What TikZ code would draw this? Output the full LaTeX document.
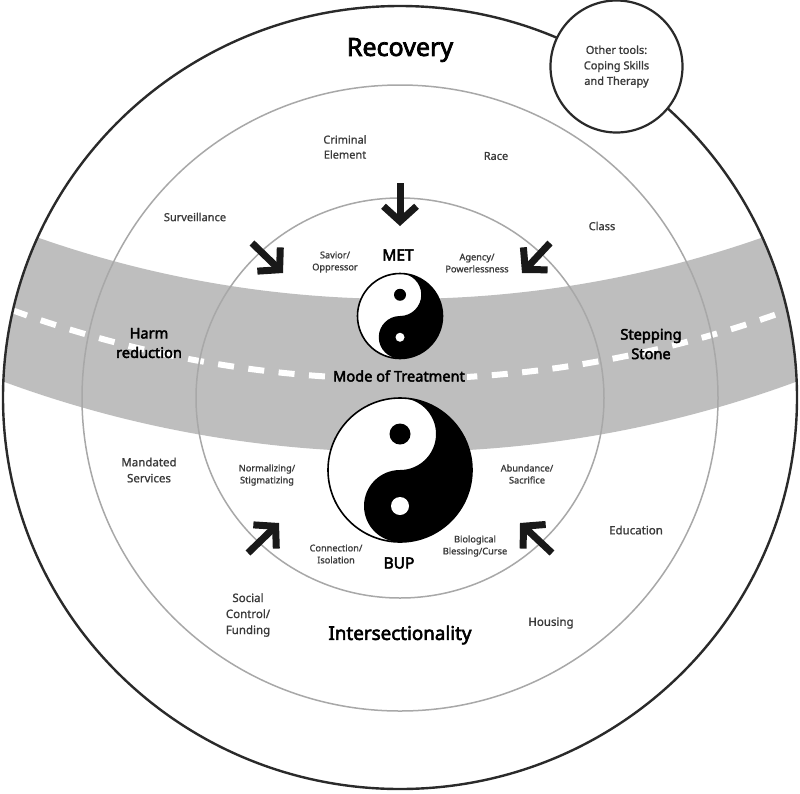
\documentclass[tikz,border=0pt]{standalone}
\usepackage{fontspec}
\setmainfont{Noto Sans}
\newfontfamily\labelface[FakeBold=1.1]{Noto Sans}
\newfontfamily\headface[FakeBold=3]{Noto Sans}
\usetikzlibrary{arrows.meta}
\definecolor{bandgray}{HTML}{BEBEBE}
\definecolor{ringgray}{HTML}{A8A8A8}
\definecolor{inkdark}{HTML}{2A2A2A}
\definecolor{labelink}{HTML}{3A3A3A}
\tikzset{
  smalltxt/.style={align=center,text=labelink,font=\labelface\fontsize{9.2}{12}\selectfont,inner sep=0pt},
  midtxt/.style={align=center,text=labelink,font=\labelface\fontsize{11.5}{16}\selectfont,inner sep=0pt},
  headtxt/.style={align=center,text=black,font=\headface\fontsize{14.6}{19.5}\selectfont,inner sep=0pt},
  drugtxt/.style={align=center,text=black,font=\headface\fontsize{15.5}{19}\selectfont,inner sep=0pt},
  pressure/.style={-{Straight Barb[length=15pt,width=33pt,line width=7pt]},line width=7pt,draw=black!90},
  ring/.style={draw=ringgray,line width=1.5pt},
}
% yin-yang disc: #1 centre, #2 radius, #3 black dot radius, #4 white dot radius
\newcommand{\taiji}[4]{%
  \begin{scope}[shift={#1}]
    \fill[white] (0,0) circle[radius=#2];
    \fill[black] (0,-#2) arc[start angle=-90,end angle=90,radius=#2]
      arc[start angle=90,end angle=270,radius=#2/2]
      arc[start angle=90,end angle=-90,radius=#2/2] -- cycle;
    \draw[black,line width=1.6pt] (0,0) circle[radius=#2];
    \fill[black] (0,-#2/2) circle[radius=#3];
    \fill[white] (0,#2/2) circle[radius=#4];
  \end{scope}}
\begin{document}
\begin{tikzpicture}[x=1pt,y=1pt,yscale=-1]
\useasboundingbox (0,0) rectangle (800,793);
\fill[white] (0,0) rectangle (800,793);

% road across the recovery circle
\begin{scope}
  \clip (400,397.5) ellipse[x radius=397,y radius=391.5];
  \fill[bandgray,even odd rule] (400,-695) circle[radius=1147] (400,-794) circle[radius=1093];
  \draw[white,line width=6pt,dash pattern=on 16pt off 14.5pt]
    (400,-748) ++(110.14:1127) arc[start angle=110.14,end angle=69.86,radius=1127];
\end{scope}

% rings
\draw[ring] (400,398) ellipse[x radius=318,y radius=313];
\draw[ring] (400,398) ellipse[x radius=204,y radius=200];
\draw[draw=inkdark,line width=2.4pt] (400,397.5) ellipse[x radius=397,y radius=391.5];

% satellite circle
\node[circle,draw=inkdark,fill=white,line width=2.2pt,minimum size=132pt,inner sep=0pt,
      align=center,text=labelink,font=\labelface\fontsize{11}{15.5}\selectfont] (tools) at (616.5,66.5)
      {Other tools:\\Coping Skills\\and Therapy};

% yin-yang discs
\taiji{(400,316)}{42.5}{6}{4.5}
\taiji{(400,470)}{72}{10.5}{9}

% labels
\node[align=center,text=black,font=\headface\fontsize{25}{28}\selectfont,inner sep=0pt] (recovery) at (400,50) {Recovery};
\node[midtxt,font=\labelface\fontsize{11}{15}\selectfont] (crime) at (345,147) {Criminal\\Element};
\node[midtxt,font=\labelface\fontsize{11}{15}\selectfont] (race) at (496,156) {Race};
\node[midtxt,font=\labelface\fontsize{11}{15}\selectfont] (class) at (602,226) {Class};
\node[midtxt,font=\labelface\fontsize{11}{15}\selectfont] (surv) at (195,217) {Surveillance};
\node[smalltxt] (savior) at (335,262) {Savior/\\Oppressor};
\node[drugtxt] (met) at (398,255) {MET};
\node[smalltxt] (agency) at (477,263) {Agency/\\Powerlessness};
\node[headtxt] (harm) at (149,343) {Harm\\reduction};
\node[headtxt] (stone) at (651,344) {Stepping\\Stone};
\node[headtxt,fill=bandgray,inner xsep=2pt,inner ysep=1pt] (mode) at (399,376) {Mode of Treatment};
\node[smalltxt] (norm) at (267,475) {Normalizing/\\Stigmatizing};
\node[smalltxt] (abund) at (527,474) {Abundance/\\Sacrifice};
\node[smalltxt] (conn) at (336,554) {Connection/\\Isolation};
\node[smalltxt] (bio) at (475,546) {Biological\\Blessing/Curse};
\node[drugtxt] (bup) at (399,563) {BUP};
\node[midtxt] (mandated) at (149,470) {Mandated\\Services};
\node[midtxt] (edu) at (636,530) {Education};
\node[midtxt] (social) at (248,615) {Social\\Control/\\Funding};
\node[align=center,text=black,font=\headface\fontsize{18.8}{22}\selectfont,inner sep=0pt] (inter) at (400,635) {Intersectionality};
\node[midtxt] (housing) at (551,623) {Housing};

% pressures acting on the mode of treatment
\coordinate (n1) at (400,183); \coordinate (n2) at (400,226);
\coordinate (nw1) at (252,243); \coordinate (nw2) at (283,273);
\coordinate (ne1) at (550,243); \coordinate (ne2) at (522,273);
\coordinate (sw1) at (248,553); \coordinate (sw2) at (279,523);
\coordinate (se1) at (552,553); \coordinate (se2) at (520,523);
\draw[pressure] (n1) -- (n2);
\draw[pressure] (nw1) -- (nw2);
\draw[pressure] (ne1) -- (ne2);
\draw[pressure] (sw1) -- (sw2);
\draw[pressure] (se1) -- (se2);
\end{tikzpicture}
\end{document}
